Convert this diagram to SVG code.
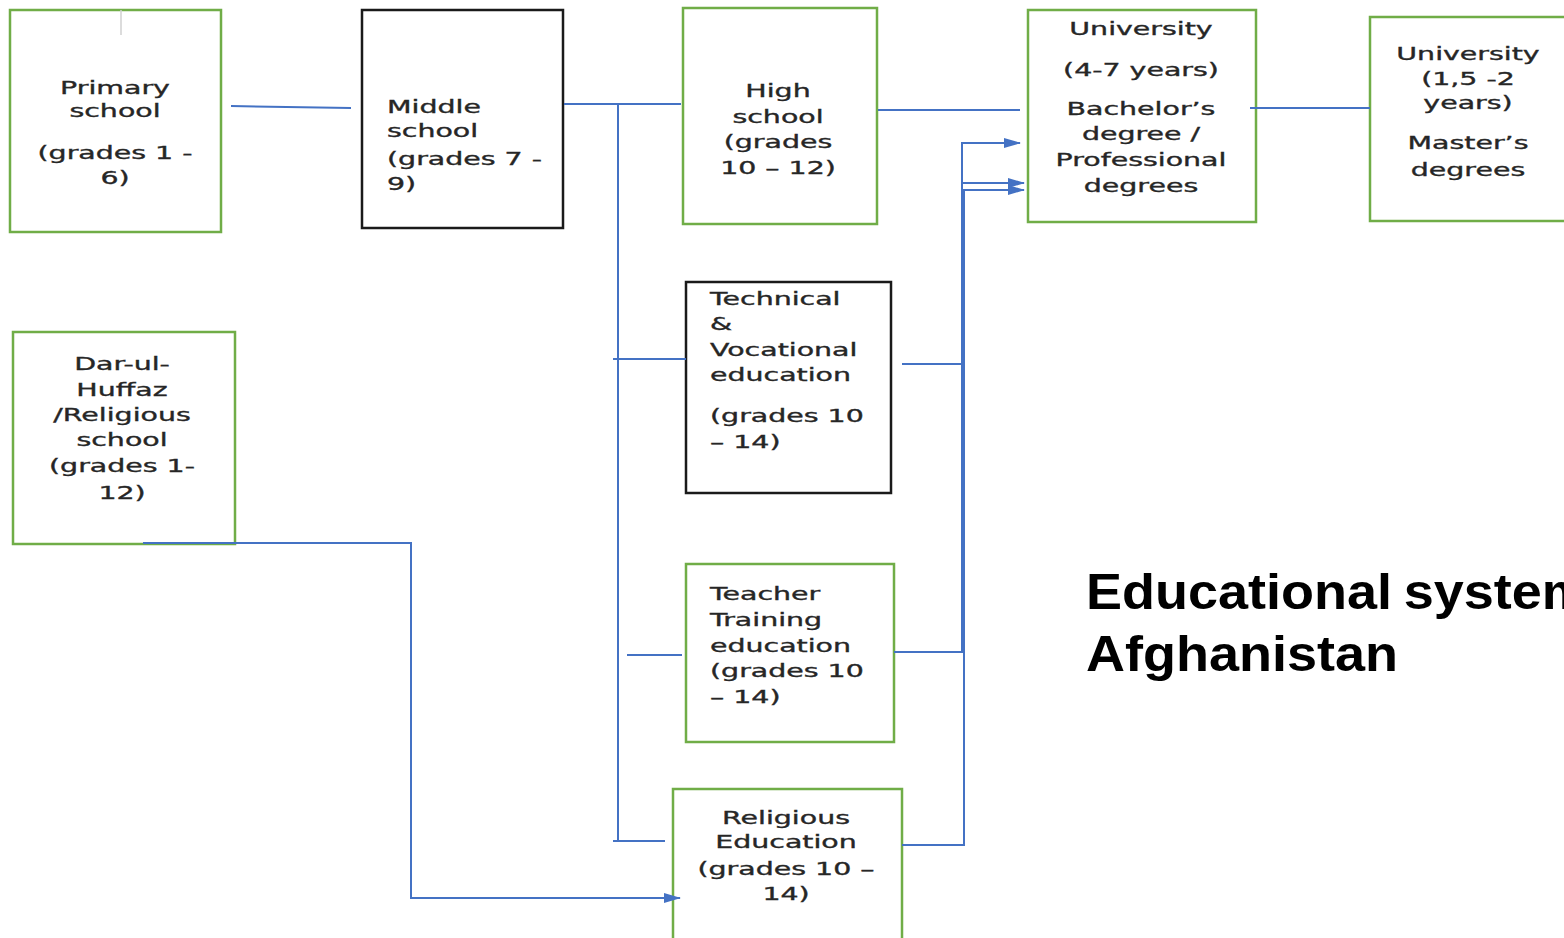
<svg xmlns="http://www.w3.org/2000/svg" width="1564" height="938" viewBox="0 0 1564 938">
<style>
.box-g{fill:#ffffff;stroke:#70AD47;stroke-width:2.5}
.box-k{fill:#ffffff;stroke:#1a1a1a;stroke-width:2.5}
.t{font-family:"DejaVu Sans","Verdana",sans-serif;font-size:18px;fill:#262626;stroke:#262626;stroke-width:0.35}
.c{text-anchor:middle}
.l{text-anchor:start}
.con{fill:none;stroke:#4472C4;stroke-width:2}
.title{font-family:"Liberation Sans",Arial,sans-serif;font-weight:bold;font-size:50px;fill:#000}
</style>
<defs>
<marker id="arr" markerUnits="userSpaceOnUse" markerWidth="17" markerHeight="11" refX="16" refY="5.5" orient="auto">
<path d="M0,0.5 L17,5.5 L0,10.5 z" fill="#4472C4"/>
</marker>
</defs>
<rect width="1564" height="938" fill="#ffffff"/>

<g id="primary">
<rect class="box-g" x="10" y="10" width="211" height="222"/>
<line x1="121" y1="10" x2="121" y2="35" stroke="#d0d0d0" stroke-width="1.5"/>
<g transform="translate(115 0) scale(1.58 1)">
<text class="t c" x="0" y="94">Primary</text>
<text class="t c" x="0" y="117">school</text>
<text class="t c" x="0" y="159">(grades 1 -</text>
<text class="t c" x="0" y="184">6)</text>
</g>
</g>

<g id="middle">
<rect class="box-k" x="362" y="10" width="201" height="218"/>
<g transform="translate(387 0) scale(1.58 1)">
<text class="t l" x="0" y="113">Middle</text>
<text class="t l" x="0" y="137">school</text>
<text class="t l" x="0" y="165">(grades 7 -</text>
<text class="t l" x="0" y="190">9)</text>
</g>
</g>

<g id="high">
<rect class="box-g" x="683" y="8" width="194" height="216"/>
<g transform="translate(778 0) scale(1.58 1)">
<text class="t c" x="0" y="97">High</text>
<text class="t c" x="0" y="123">school</text>
<text class="t c" x="0" y="148">(grades</text>
<text class="t c" x="0" y="174">10 – 12)</text>
</g>
</g>

<g id="university">
<rect class="box-g" x="1028" y="10" width="228" height="212"/>
<g transform="translate(1141 0) scale(1.58 1)">
<text class="t c" x="0" y="35">University</text>
<text class="t c" x="0" y="76">(4-7 years)</text>
<text class="t c" x="0" y="115">Bachelor’s</text>
<text class="t c" x="0" y="140">degree /</text>
<text class="t c" x="0" y="166">Professional</text>
<text class="t c" x="0" y="192">degrees</text>
</g>
</g>

<g id="master">
<rect class="box-g" x="1370" y="17" width="220" height="204"/>
<g transform="translate(1468 0) scale(1.58 1)">
<text class="t c" x="0" y="60">University</text>
<text class="t c" x="0" y="85">(1,5 -2</text>
<text class="t c" x="0" y="109">years)</text>
<text class="t c" x="0" y="149">Master’s</text>
<text class="t c" x="0" y="176">degrees</text>
</g>
</g>

<g id="technical">
<rect class="box-k" x="686" y="282" width="205" height="211"/>
<g transform="translate(710 0) scale(1.58 1)">
<text class="t l" x="0" y="305">Technical</text>
<text class="t l" x="0" y="330">&amp;</text>
<text class="t l" x="0" y="356">Vocational</text>
<text class="t l" x="0" y="381">education</text>
<text class="t l" x="0" y="422">(grades 10</text>
<text class="t l" x="0" y="448">– 14)</text>
</g>
</g>

<g id="darulhuffaz">
<rect class="box-g" x="13" y="332" width="222" height="212"/>
<g transform="translate(122 0) scale(1.58 1)">
<text class="t c" x="0" y="370">Dar-ul-</text>
<text class="t c" x="0" y="396">Huffaz</text>
<text class="t c" x="0" y="421">/Religious</text>
<text class="t c" x="0" y="446">school</text>
<text class="t c" x="0" y="472">(grades 1-</text>
<text class="t c" x="0" y="499">12)</text>
</g>
</g>

<g id="teacher">
<rect class="box-g" x="686" y="564" width="208" height="178"/>
<g transform="translate(710 0) scale(1.58 1)">
<text class="t l" x="0" y="600">Teacher</text>
<text class="t l" x="0" y="626">Training</text>
<text class="t l" x="0" y="652">education</text>
<text class="t l" x="0" y="677">(grades 10</text>
<text class="t l" x="0" y="703">– 14)</text>
</g>
</g>

<g id="religious">
<rect class="box-g" x="673" y="789" width="229" height="170"/>
<g transform="translate(786 0) scale(1.58 1)">
<text class="t c" x="0" y="824">Religious</text>
<text class="t c" x="0" y="848">Education</text>
<text class="t c" x="0" y="875">(grades 10 –</text>
<text class="t c" x="0" y="900">14)</text>
</g>
</g>

<g id="title" transform="translate(1086 0) scale(1.08 1)">
<text class="title" x="0" y="609" word-spacing="-3">Educational system</text>
<text class="title" x="0" y="671">Afghanistan</text>
</g>

<g id="connectors">
<line class="con" x1="231" y1="106" x2="351" y2="108"/>
<line class="con" x1="564" y1="104" x2="681" y2="104"/>
<polyline class="con" stroke-width="2.5" points="618,104 618,841"/>
<line class="con" x1="613" y1="359" x2="686" y2="359"/>
<line class="con" x1="627" y1="655" x2="682" y2="655"/>
<line class="con" x1="613" y1="841" x2="665" y2="841"/>
<line class="con" x1="878" y1="110" x2="1020" y2="110"/>
<polyline class="con" points="902,364 962,364 962,143 1020,143" marker-end="url(#arr)"/>
<polyline class="con" stroke-width="2.5" points="894,652 962,652 962,183 1024,183" marker-end="url(#arr)"/>
<polyline class="con" stroke-width="2.5" points="902,845 964,845 964,190 1024,190" marker-end="url(#arr)"/>
<line class="con" x1="1250" y1="108" x2="1370" y2="108"/>
<polyline class="con" points="143,543 411,543 411,898 680,898" marker-end="url(#arr)"/>
</g>
</svg>
